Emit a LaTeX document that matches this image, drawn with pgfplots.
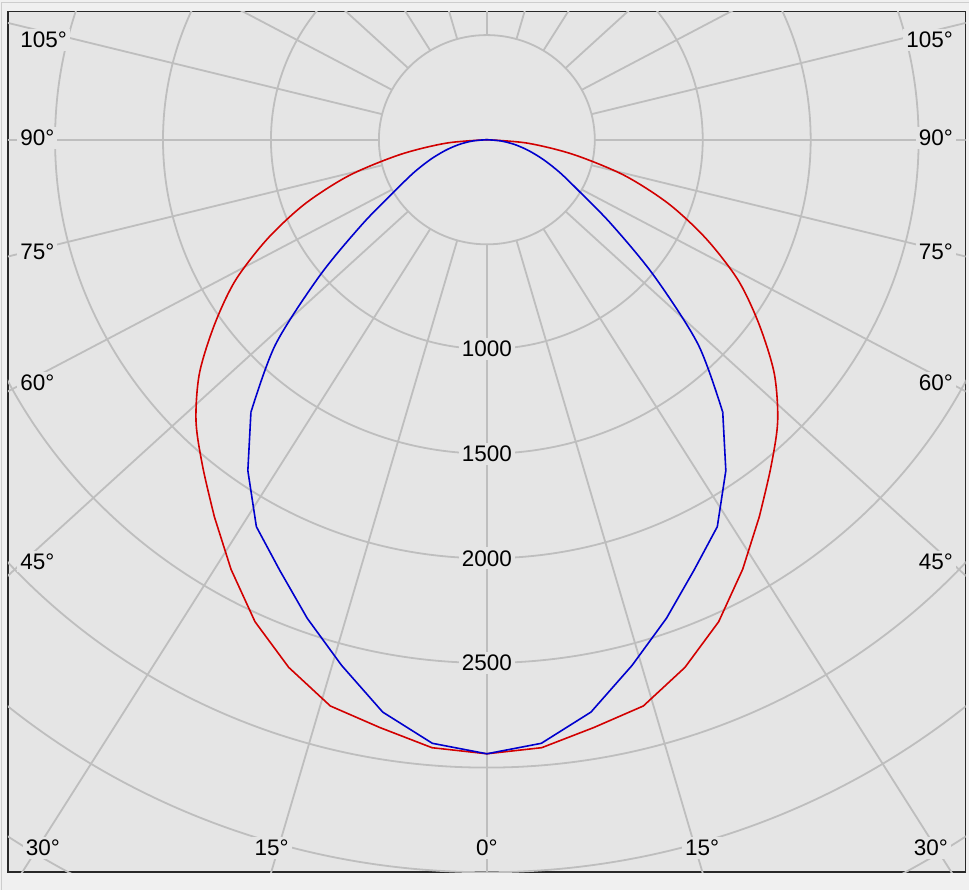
\documentclass[border=0pt]{standalone}
\usepackage{fontspec}
\setmainfont{Liberation Sans}
\usepackage{pgfplots}
\pgfplotsset{compat=1.18}
\definecolor{outerbg}{RGB}{240,240,240}
\definecolor{innerbg}{RGB}{229,229,229}
\definecolor{gridc}{RGB}{190,190,190}
\definecolor{framec}{RGB}{40,40,40}
\definecolor{cred}{RGB}{210,0,0}
\definecolor{cblue}{RGB}{0,0,205}
\tikzset{
  lbl/.style={fill=innerbg, inner sep=3pt, text=black, font=\fontsize{22.5}{26}\selectfont},
  gridline/.style={draw=gridc, line width=1.8pt},
}
\begin{document}
\begin{tikzpicture}[x=1pt,y=1pt]
\fill[outerbg] (0,0) rectangle (969,890);
\draw[gridc!70!outerbg, line width=1pt] (2,0) -- (2,887) -- (969,887);
\begin{axis}[
  at={(8pt,17.3pt)}, anchor=south west,
  x=0.216pt, y=0.2094pt,
  xmin=-2218, xmax=2218, ymin=-3500, ymax=613,
  scale only axis,
  axis line style={draw=framec, line width=1.5pt},
  axis background/.style={fill=innerbg},
  ticks=none,
  clip=true,
]
% concentric circles (cd)
\pgfplotsinvokeforeach{500,1000,...,4500}{
  \draw[gridline] (axis cs:0,0) ellipse [x radius=#1, y radius=#1];
}
% spokes every 15 degrees
\pgfplotsinvokeforeach{0,15,...,345}{
  \draw[gridline]
   (axis cs:{500*1.065*sin(#1)/sqrt((1.065*sin(#1))^2+(cos(#1))^2)},{-500*cos(#1)/sqrt((1.065*sin(#1))^2+(cos(#1))^2)})
   -- (axis cs:{6000*1.065*sin(#1)/sqrt((1.065*sin(#1))^2+(cos(#1))^2)},{-6000*cos(#1)/sqrt((1.065*sin(#1))^2+(cos(#1))^2)});
}
% radial labels
\node[lbl] at (axis cs:0,-1000) {1000};
\node[lbl] at (axis cs:0,-1500) {1500};
\node[lbl] at (axis cs:0,-2000) {2000};
\node[lbl] at (axis cs:0,-2500) {2500};
% angle labels left
\node[lbl, anchor=west] at (axis cs:-2176,477.6) {105°};
\node[lbl, anchor=west] at (axis cs:-2176,8.1) {90°};
\node[lbl, anchor=west] at (axis cs:-2176,-533.4) {75°};
\node[lbl, anchor=west] at (axis cs:-2176,-1160.5) {60°};
\node[lbl, anchor=west] at (axis cs:-2176,-2015.3) {45°};
% angle labels right
\node[lbl, anchor=east] at (axis cs:2173,477.6) {105°};
\node[lbl, anchor=east] at (axis cs:2173,8.1) {90°};
\node[lbl, anchor=east] at (axis cs:2173,-533.4) {75°};
\node[lbl, anchor=east] at (axis cs:2173,-1160.5) {60°};
\node[lbl, anchor=east] at (axis cs:2173,-2015.3) {45°};
% angle labels bottom
\node[lbl] at (axis cs:-2057,-3384) {30°};
\node[lbl] at (axis cs:-997,-3384) {15°};
\node[lbl] at (axis cs:0,-3384) {0°};
\node[lbl] at (axis cs:997,-3384) {15°};
\node[lbl] at (axis cs:2057,-3384) {30°};
% C0-C180 plane (red): polar angle, intensity in cd
\addplot[cred, line width=1.6pt, line join=round, smooth, data cs=polar] coordinates {
(-180,0) (-175,190) (-170,408) (-165,660) (-160,897) (-155,1122) (-150,1345)
(-145,1540) (-140,1738) (-135,1905) (-130,2046) (-125,2200)
};
\addplot[cred, line width=1.6pt, line join=round, data cs=polar] coordinates {
(-125,2200) (-120,2370)
(-115,2541) (-110,2683) (-105,2801) (-100,2852) (-95,2916) (-90,2934)
(-85,2916) (-80,2852) (-75,2801) (-70,2683) (-65,2541) (-60,2370)
(-55,2200)
};
\addplot[cred, line width=1.6pt, line join=round, smooth, data cs=polar] coordinates {
(-55,2200) (-50,2046) (-45,1905) (-40,1738) (-35,1540) (-30,1345)
(-25,1122) (-20,897) (-15,660) (-10,408) (-5,190) (0,0)
};
% C90-C270 plane (blue)
\addplot[cblue, line width=1.6pt, line join=round, smooth, data cs=polar] coordinates {
(-180,0) (-175,64) (-170,130) (-165,200) (-160,280) (-155,375) (-150,495)
(-145,705) (-140,1010) (-135,1385) (-130,1700)
};
\addplot[cblue, line width=1.6pt, line join=round, data cs=polar] coordinates {
(-130,1700) (-125,1930) (-120,2135)
(-115,2270) (-110,2433) (-105,2600) (-100,2777) (-95,2895) (-90,2934)
(-85,2895) (-80,2777) (-75,2600) (-70,2433) (-65,2270) (-60,2135)
(-55,1930) (-50,1700)
};
\addplot[cblue, line width=1.6pt, line join=round, smooth, data cs=polar] coordinates {
(-50,1700) (-45,1385) (-40,1010) (-35,705) (-30,495)
(-25,375) (-20,280) (-15,200) (-10,130) (-5,64) (0,0)
};
\end{axis}
\end{tikzpicture}
\end{document}
